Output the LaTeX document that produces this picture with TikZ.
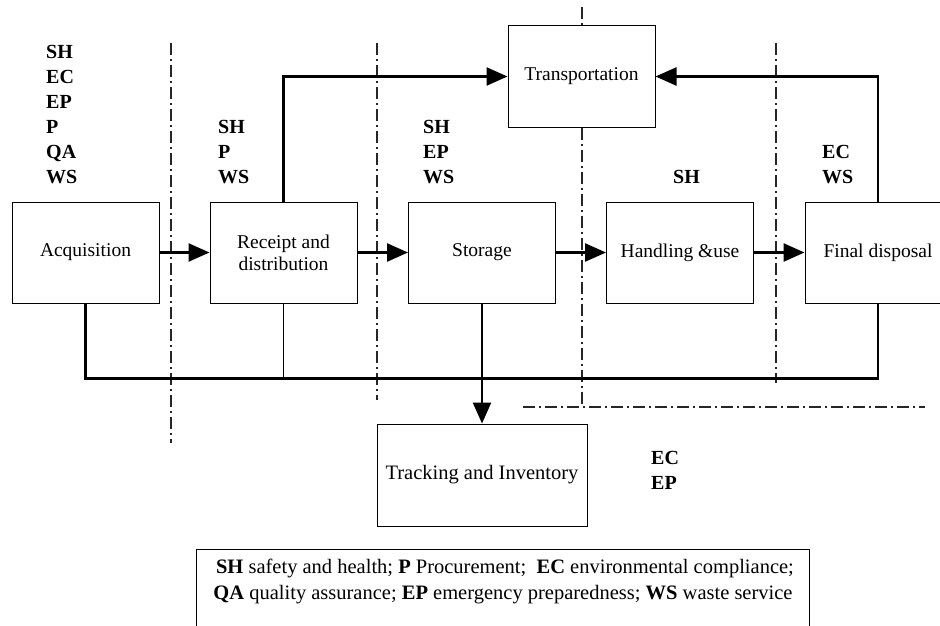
\documentclass[tikz,border=0pt]{standalone}
\usepackage{fontspec}
\setmainfont{Liberation Serif}
\usetikzlibrary{arrows.meta}
\begin{document}
\begin{tikzpicture}[x=1pt,y=-1pt,
  box/.style={draw, line width=1pt, minimum width=147pt, minimum height=101pt, inner sep=0pt,
    font=\fontsize{19.5}{22}\selectfont, align=center},
  thickline/.style={line width=2.5pt},
  thinline/.style={line width=1.1pt},
  arr/.style={line width=2.5pt, -{Triangle[length=21pt,width=18pt]}},
  sep/.style={draw=black!85, line width=1.1pt, dash pattern=on 12pt off 4pt on 2pt off 4pt},
  lab/.style={anchor=base west, inner sep=0pt, align=left, font=\bfseries\fontsize{20}{25}\selectfont},
  legtxt/.style={anchor=base, inner sep=0pt, font=\fontsize{20.5}{25}\selectfont}]
\clip (0,0) rectangle (940,626);
\fill[white] (0,0) rectangle (940,626);

% separators
\coordinate (d1a) at (171,43); \coordinate (d1b) at (171,443);
\coordinate (d2a) at (377,43); \coordinate (d2b) at (377,400);
\coordinate (d3a) at (582,7);  \coordinate (d3b) at (582,407);
\coordinate (d4a) at (776,43); \coordinate (d4b) at (776,383);
\coordinate (h1a) at (523,407); \coordinate (h1b) at (925,407);

% boxes
\node[box] (acq) at (85.5,252.5) {Acquisition};
\node[box] (rec) at (283.5,252.5) {Receipt and\\distribution};
\node[box] (sto) at (482,252.5) {Storage};
\node[box] (han) at (680,252.5) {Handling \&use};
\node[box, minimum width=146pt] (fin) at (878,252.5) {Final disposal};
\node[box] (tra) at (581.5,76.5) {Transportation};
\node[box, minimum width=210pt, minimum height=102pt, font=\fontsize{20.5}{22}\selectfont] (trk) at (482,475) {Tracking and Inventory};

\draw[sep] (d1a) -- (d1b);
\draw[sep] (d2a) -- (d2b);
\draw[sep] (d3a) -- (d3a |- tra.north);
\draw[sep] (d3a |- tra.south) -- (d3b);
\draw[sep] (d4a) -- (d4b);
\draw[sep] (h1a) -- (h1b);

% connectors
\draw[arr] (acq.east) -- (rec.west);
\draw[arr] (rec.east) -- (sto.west);
\draw[arr] (sto.east) -- (han.west);
\draw[arr] (han.east) -- (fin.west);
\draw[arr] (rec.north) |- (tra.west);
\draw[arr] (fin.north) |- (tra.east);
\draw[arr] (sto.south) -- (trk.north);
\draw[thickline] (acq.south) -- ++(0,75) -| (fin.south);
\draw[thinline] (rec.south) -- ++(0,75);

% labels (base anchor = last line)
\node[lab] (l1) at (46,183) {SH\\EC\\EP\\P\\QA\\WS};
\node[lab] (l2) at (218,183) {SH\\P\\WS};
\node[lab] (l3) at (423,183) {SH\\EP\\WS};
\node[lab] (l4) at (673,183) {SH};
\node[lab] (l5) at (822,183) {EC\\WS};
\node[lab] (l6) at (651,489) {EC\\EP};

% legend
\coordinate (la) at (196,630); \coordinate (lb) at (196,549);
\coordinate (lc) at (809,549); \coordinate (ld) at (809,630);
\draw[line width=1pt] (la) -- (lb) -- (lc) -- (ld);
\node[legtxt] (leg1) at (505,573) {\textbf{SH} safety and health; \textbf{P} Procurement;\ \ \textbf{EC} environmental compliance;};
\node[legtxt] (leg2) at (503,599) {\textbf{QA} quality assurance; \textbf{EP} emergency preparedness; \textbf{WS} waste service};
\end{tikzpicture}
\end{document}
